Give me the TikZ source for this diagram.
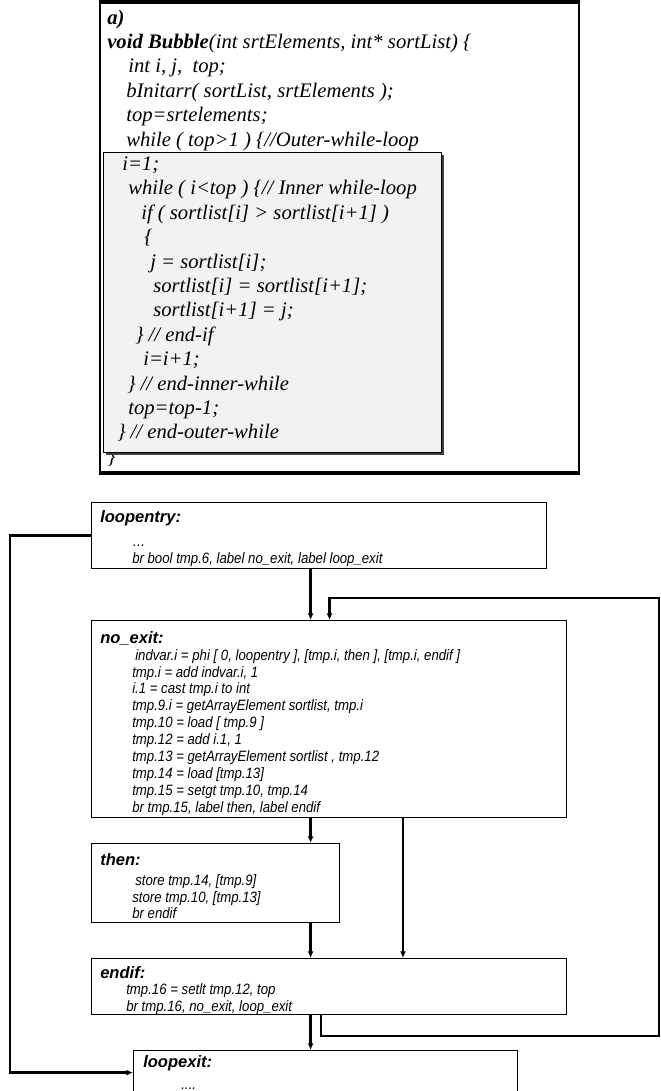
\documentclass[tikz,border=0pt]{standalone}
\usepackage{fontspec}
\setmainfont{Liberation Serif}
\newfontfamily\flowfont[FakeStretch=0.88]{Liberation Sans}
\newfontfamily\headfont{Liberation Sans}
\usetikzlibrary{arrows.meta, shadows}
\newlength{\pxu}
\setlength{\pxu}{0.75pt}

\begin{document}
\begin{tikzpicture}[x=0.75pt, y=-0.75pt,
    block/.style={draw, line width=0.9pt, anchor=north west, inner sep=0pt},
    hdr/.style={anchor=base west, inner sep=0pt, font=\headfont\bfseries\itshape\fontsize{12.4pt}{14pt}\selectfont},
    body/.style={anchor=north west, inner sep=0pt, align=left, font=\flowfont\itshape\fontsize{11.25pt}{12.7pt}\selectfont},
    code/.style={anchor=north west, inner sep=0pt, align=left, font=\itshape\fontsize{15.5pt}{18.3pt}\selectfont},
    flow/.style={line width=1.7pt, -{Latex[length=5pt,width=4.5pt]}}]
    \useasboundingbox (0,0) rectangle (660,1091);

    % a) source code
    \node[block, line width=1.5pt, minimum width=479\pxu, minimum height=469\pxu] (src) at (99,2) {};
    \draw[line width=2.4pt] (src.north west) -- (src.north east);
    \draw[line width=2.4pt] (src.south west) -- (src.south east);
    \node[code, anchor=base west] (srcend) at (107,463) {\}};
    \node[block, fill=black!5, drop shadow={shadow xshift=1.5pt, shadow yshift=-1.5pt, opacity=1, fill=black!75},
          minimum width=338\pxu, minimum height=300\pxu] (inner) at (103,152) {};
    \node[code] (srccode) at (107,9.5) {\textbf{a)}\\
        \textbf{void Bubble}(int srtElements, int* sortList) \{\\
        \hspace*{21\pxu}int i, j,\ \ top;\\
        \hspace*{19\pxu}bInitarr( sortList, srtElements );\\
        \hspace*{19\pxu}top=srtelements;\\
        \hspace*{19\pxu}while ( top>1 ) \{//Outer-while-loop\\
        \hspace*{15\pxu}i=1;\\
        \hspace*{21\pxu}while ( i<top ) \{// Inner while-loop\\
        \hspace*{34\pxu}if ( sortlist[i] > sortlist[i+1] )\\
        \hspace*{37\pxu}\{\\
        \hspace*{43\pxu}j = sortlist[i];\\
        \hspace*{46\pxu}sortlist[i] = sortlist[i+1];\\
        \hspace*{46\pxu}sortlist[i+1] = j;\\
        \hspace*{28\pxu}\} // end-if\\
        \hspace*{36\pxu}i=i+1;\\
        \hspace*{20\pxu}\} // end-inner-while\\
        \hspace*{21\pxu}top=top-1;\\
        \hspace*{10\pxu}\} // end-outer-while};

    % b) basic blocks
    \node[block, minimum width=455.5\pxu, minimum height=66\pxu] (entry) at (90.5,502) {};
    \node[hdr] (entry-h) at (100,522) {loopentry:};
    \node[body] (entry-b) at (132,534) {\strut\ldots\\
        br bool tmp.6, label no\_exit, label loop\_exit};

    \node[block, minimum width=475.5\pxu, minimum height=197\pxu] (noexit) at (90.5,620) {};
    \node[hdr] (noexit-h) at (100,643.5) {no\_exit:};
    \node[body] (noexit-b) at (132,648) {\strut\hspace*{3\pxu}indvar.i = phi [ 0, loopentry ], [tmp.i, then ], [tmp.i, endif ]\\
        tmp.i = add indvar.i, 1\\
        i.1 = cast tmp.i to int\\
        tmp.9.i = getArrayElement sortlist, tmp.i\\
        tmp.10 = load [ tmp.9 ]\\
        tmp.12 = add i.1, 1\\
        tmp.13 = getArrayElement sortlist , tmp.12\\
        tmp.14 = load [tmp.13]\\
        tmp.15 = setgt tmp.10, tmp.14\\
        br tmp.15, label then, label endif};

    \node[block, minimum width=248.5\pxu, minimum height=79\pxu] (then) at (90.5,843) {};
    \node[hdr] (then-h) at (100,865.5) {then:};
    \node[body] (then-b) at (132,873) {\strut\hspace*{3\pxu}store tmp.14, [tmp.9]\\
        store tmp.10, [tmp.13]\\
        br endif};

    \node[block, minimum width=475.5\pxu, minimum height=56\pxu] (endif) at (90.5,958) {};
    \node[hdr] (endif-h) at (100,978.5) {endif:};
    \node[body] (endif-b) at (126,982) {\strut tmp.16 = setlt tmp.12, top\\
        br tmp.16, no\_exit, loop\_exit};

    \node[block, minimum width=384\pxu, minimum height=44\pxu] (exit) at (133,1050) {};
    \node[hdr] (exit-h) at (143,1067.5) {loopexit:};
    \node[body, anchor=base west] (exit-b) at (181,1089) {....};

    % connectors
    \coordinate (trunk) at (310.6,0);
    \coordinate (skip) at (403,0);
    \coordinate (backout) at (320.7,0);
    \coordinate (backin) at (329.5,0);
    \coordinate (rail) at (10,800);
    \coordinate (backlow) at (658.7,1036);
    \coordinate (backhigh) at (658.7,598);

    \draw[flow] (entry.south -| trunk) -- (noexit.north -| trunk);
    \draw[flow] (noexit.south -| trunk) -- (then.north -| trunk);
    \draw[flow] (then.south -| trunk) -- (endif.north -| trunk);
    \draw[flow] (endif.south -| trunk) -- (exit.north -| trunk);
    \draw[flow] (noexit.south -| skip) -- (endif.north -| skip);
    \draw[flow] (endif.south -| backout) |- (backlow) -- (backhigh) -| (noexit.north -| backin);
    \draw[flow] (entry.west) -| (rail) |- (exit.west);
\end{tikzpicture}
\end{document}
